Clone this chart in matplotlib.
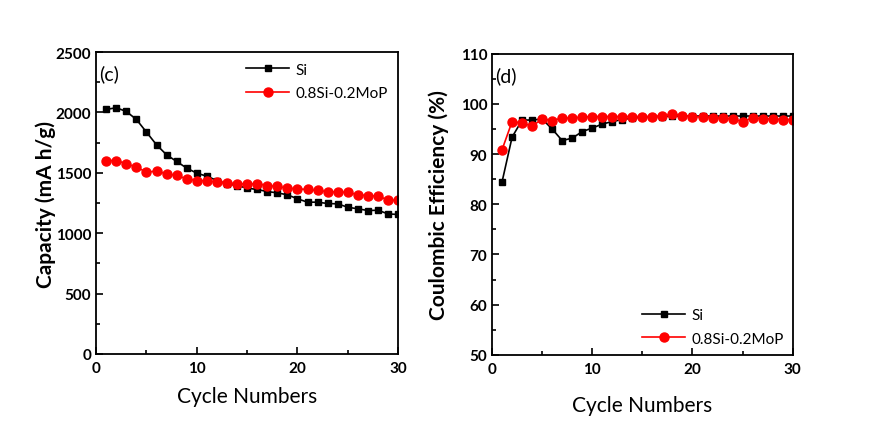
import numpy as np
import matplotlib.pyplot as plt
from matplotlib.ticker import MultipleLocator

cycles = np.arange(1, 31)

si_cap = [2025, 2039, 2008, 1942, 1837, 1732, 1649, 1594, 1539, 1497,
          1472, 1436, 1409, 1395, 1373, 1362, 1345, 1334, 1318, 1285,
          1257, 1257, 1246, 1243, 1215, 1202, 1188, 1190, 1160, 1155]
mop_cap = [1602, 1602, 1575, 1547, 1506, 1514, 1492, 1478, 1450, 1436,
           1436, 1423, 1417, 1409, 1409, 1409, 1395, 1387, 1373, 1367,
           1362, 1354, 1345, 1340, 1340, 1318, 1312, 1307, 1276, 1271]

si_ce = [84.5, 93.4, 96.8, 96.8, 97.0, 95.0, 92.7, 93.2, 94.5, 95.2,
         96.0, 96.5, 96.9, 97.2, 97.4, 97.5, 97.5, 97.6, 97.6, 97.6,
         97.6, 97.6, 97.6, 97.6, 97.6, 97.6, 97.6, 97.6, 97.6, 97.6]
mop_ce = [90.9, 96.5, 96.2, 95.6, 97.0, 96.7, 97.2, 97.2, 97.4, 97.5,
          97.5, 97.5, 97.5, 97.5, 97.5, 97.5, 97.6, 98.0, 97.7, 97.5,
          97.4, 97.3, 97.2, 97.0, 96.5, 97.2, 97.1, 97.0, 96.9, 96.9]

labels = ['Si', '0.8Si-0.2MoP']

plt.rcParams['font.family'] = ['Lato', 'DejaVu Sans']

fig = plt.figure(figsize=(8.74, 4.35), dpi=100)
ax1 = fig.add_axes([0.110, 0.184, 0.3455, 0.694])
ax2 = fig.add_axes([0.563, 0.182, 0.344, 0.692])

def style(ax, pad):
	ax.set_xlim(0, 30)
	ax.xaxis.set_major_locator(MultipleLocator(10))
	ax.xaxis.set_minor_locator(MultipleLocator(5))
	ax.tick_params(which='both', direction='in', labelsize=11, width=1.2)
	ax.tick_params(which='major', length=5)
	ax.tick_params(which='minor', length=3)
	ax.tick_params(axis='x', pad=5)
	for s in ax.spines.values():
		s.set_linewidth(1.3)
	ax.set_xlabel('Cycle Numbers', fontsize=15, labelpad=pad)

ax1.plot(cycles, si_cap, '-s', color='black', ms=4.5, lw=1.2, label=labels[0])
ax1.plot(cycles, mop_cap, '-o', color='red', ms=6.5, lw=1.2, label=labels[1])
style(ax1, 8)
ax1.set_ylim(0, 2500)
ax1.yaxis.set_major_locator(MultipleLocator(500))
ax1.yaxis.set_minor_locator(MultipleLocator(250))
for lab in ax1.get_xticklabels() + ax1.get_yticklabels():
	lab.set_fontweight('bold')
ax1.set_ylabel('Capacity (mA h/g)', fontsize=15, fontweight='bold', labelpad=0)
ax1.text(0.01, 0.96, '(c)', transform=ax1.transAxes, fontsize=14, va='top')
ax1.legend(loc='upper right', frameon=False, fontsize=11, handlelength=2.8,
		   handletextpad=0.4, borderaxespad=0.3, labelspacing=0.6)

ax2.plot(cycles, si_ce, '-s', color='black', ms=4.5, lw=1.2, label=labels[0])
ax2.plot(cycles, mop_ce, '-o', color='red', ms=6.5, lw=1.2, label=labels[1])
style(ax2, 14)
ax2.set_ylim(50, 110)
ax2.yaxis.set_major_locator(MultipleLocator(10))
ax2.yaxis.set_minor_locator(MultipleLocator(5))
for lab in ax2.get_xticklabels() + ax2.get_yticklabels():
	lab.set_fontweight('bold')
ax2.set_ylabel('Coulombic Efficiency (%)', fontsize=15, fontweight='bold', labelpad=8)
ax2.text(0.01, 0.96, '(d)', transform=ax2.transAxes, fontsize=14, va='top')
ax2.legend(loc='lower right', frameon=False, fontsize=11, handlelength=2.8,
		   handletextpad=0.4, borderaxespad=0.2, labelspacing=0.6)

fig.savefig('out.png', dpi=100)
